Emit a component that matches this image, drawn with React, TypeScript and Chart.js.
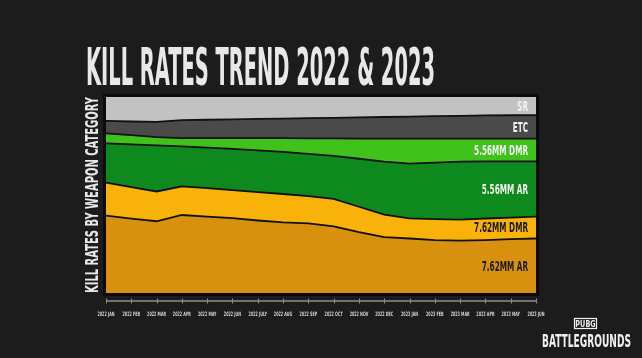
import { useEffect, useRef } from 'react';
import { Chart, registerables } from 'chart.js';

Chart.register(...registerables);

const months = [
  '2022 JAN', '2022 FEB', '2022 MAR', '2022 APR', '2022 MAY', '2022 JUN',
  '2022 JULY', '2022 AUG', '2022 SEP', '2022 OCT', '2022 NOV', '2022 DEC',
  '2023 JAN', '2023 FEB', '2023 MAR', '2023 APR', '2023 MAY', '2023 JUN',
];

// share of kills (%) per weapon category, bottom to top of the stack
const ar762 = [39.5, 38, 36.6, 39.8, 39, 38.2, 37, 36, 35.5, 34, 31, 28.5, 27.8, 27, 26.7, 27, 27.5, 27.8];
const dmr762 = [16.8, 16, 15.2, 14.6, 14.5, 14.3, 14.5, 14.5, 13.9, 14, 13, 11.5, 10.3, 10.7, 10.7, 11, 11, 11.2];
const ar556 = [20, 21.8, 23.5, 20.4, 20.7, 21, 21.3, 21.5, 21.6, 22, 24.5, 27, 27.9, 28.8, 29.6, 29.2, 28.7, 28.2];
const dmr556 = [5.1, 4.7, 4.2, 4.2, 4.8, 5.5, 6.2, 7, 7.9, 8.9, 10.3, 11.8, 12.8, 12.3, 11.8, 11.6, 11.6, 11.6];
const etc = [6.4, 7, 7.8, 9.2, 9.4, 9.6, 9.8, 10, 10.3, 10.5, 10.8, 11, 11.2, 11.4, 11.6, 11.8, 11.9, 12];
const sr = [12.2, 12.5, 12.7, 11.8, 11.6, 11.4, 11.2, 11, 10.8, 10.6, 10.4, 10.2, 10, 9.8, 9.6, 9.4, 9.3, 9.2];

const seriesNames = ['7.62MM AR', '7.62MM DMR', '5.56MM AR', '5.56MM DMR', 'ETC', 'SR'];
const seriesValues = [ar762, dmr762, ar556, dmr556, etc, sr];

const chartTitle = 'KILL RATES TREND 2022 & 2023';
const yTitle = 'KILL RATES BY WEAPON CATEGORY';
const logoTop = 'PUBG';
const logoBottom = 'BATTLEGROUNDS';

const fillColors = ['#d8910f', '#f8b209', '#0d891d', '#41c11b', '#4a4a4a', '#c2c2c2'];
const labelColors = ['#1a1a1a', '#1a1a1a', '#f2f2f2', '#f2f2f2', '#f2f2f2', '#f2f2f2'];

const FONT = '"DejaVu Sans Condensed", "DejaVu Sans", sans-serif';

function drawScaled(ctx: CanvasRenderingContext2D, text: string, x: number, y: number, size: number, sx: number, align: string) {
  ctx.save();
  ctx.font = `bold ${size}px ${FONT}`;
  const w = ctx.measureText(text).width * sx;
  let left = x;
  if (align === 'right') left = x - w;
  else if (align === 'center') left = x - w / 2;
  ctx.translate(left, y);
  ctx.scale(sx, 1);
  ctx.textAlign = 'left';
  ctx.textBaseline = 'alphabetic';
  ctx.fillText(text, 0, 0);
  ctx.restore();
}

function drawFit(ctx: CanvasRenderingContext2D, text: string, x: number, y: number, size: number, width: number) {
  ctx.save();
  ctx.font = `bold ${size}px ${FONT}`;
  const w = ctx.measureText(text).width;
  ctx.translate(x, y);
  ctx.scale(width / w, 1);
  ctx.textAlign = 'left';
  ctx.textBaseline = 'alphabetic';
  ctx.fillText(text, 0, 0);
  ctx.restore();
}

const decorPlugin = {
  id: 'decor',
  beforeDraw(chart: any) {
    const { ctx, chartArea: ca, width, height } = chart;
    ctx.save();
    ctx.fillStyle = '#1c1c1c';
    ctx.fillRect(0, 0, width, height);
    ctx.fillStyle = '#0b0b0b';
    ctx.fillRect(ca.left - 3, ca.top - 3, ca.right - ca.left + 6, ca.bottom - ca.top + 6);
    ctx.restore();
  },
  afterDraw(chart: any) {
    const { ctx, chartArea: ca } = chart;
    const xs = chart.scales.x;
    const ys = chart.scales.y;
    ctx.save();
    // axis line with ticks and condensed tick labels
    const y0 = ca.bottom + 8;
    ctx.strokeStyle = '#8c8c8c';
    ctx.lineWidth = 1.5;
    ctx.beginPath();
    ctx.moveTo(ca.left, y0);
    ctx.lineTo(ca.right, y0);
    ctx.stroke();
    ctx.lineWidth = 1;
    xs.ticks.forEach((_t: any, i: number) => {
      const px = xs.getPixelForTick(i);
      const rx = Math.round(px) + 0.5;
      ctx.strokeStyle = '#8c8c8c';
      ctx.beginPath();
      ctx.moveTo(rx, y0 - 2.5);
      ctx.lineTo(rx, y0 + 2.5);
      ctx.stroke();
      ctx.fillStyle = '#d4d4d4';
      drawScaled(ctx, String(xs.getLabelForValue(i)), px, y0 + 14.5, 6, 0.62, 'center');
    });

    // title
    ctx.fillStyle = '#e8e8e8';
    drawFit(ctx, chartTitle, 86, 85, 51, 349);

    // y title
    ctx.save();
    ctx.translate(98, 293);
    ctx.rotate(-Math.PI / 2);
    ctx.fillStyle = '#e8e8e8';
    drawFit(ctx, yTitle, 0, 0, 17, 196);
    ctx.restore();

    // series labels at the right end
    const last = chart.data.labels.length - 1;
    let cum = 0;
    chart.data.datasets.forEach((ds: any, i: number) => {
      const v = ds.data[last];
      const mid = cum + v / 2;
      cum += v;
      const py = ys.getPixelForValue(mid);
      ctx.fillStyle = labelColors[i];
      drawScaled(ctx, ds.label, ca.right - 8, py + 4.8, 13.5, 0.6, 'right');
    });

    // logo
    ctx.fillStyle = '#f0f0f0';
    ctx.strokeStyle = '#f0f0f0';
    ctx.lineWidth = 1.2;
    ctx.strokeRect(574.5, 318.5, 22, 10);
    drawScaled(ctx, logoTop, 585.5, 327, 9, 0.8, 'center');
    drawFit(ctx, logoBottom, 542, 347, 18, 89);
    ctx.restore();
  },
};

export default function App() {
  const ref = useRef<HTMLCanvasElement | null>(null);
  useEffect(() => {
    if (!ref.current) return;
    const chart = new Chart(ref.current, {
      type: 'line',
      data: {
        labels: months,
        datasets: seriesValues.map((vals, i) => ({
          label: seriesNames[i],
          data: vals,
          backgroundColor: fillColors[i],
          borderColor: i === seriesValues.length - 1 ? 'rgba(0,0,0,0)' : '#111111',
          borderWidth: i === seriesValues.length - 1 ? 0 : 1.8,
          pointRadius: 0,
          tension: 0,
          fill: i === 0 ? 'origin' : '-1',
        })),
      },
      options: {
        responsive: false,
        animation: false,
        devicePixelRatio: 1,
        layout: { padding: { left: 106, right: 106, top: 97, bottom: 41 } },
        plugins: {
          legend: { display: false },
          title: { display: false },
          tooltip: { enabled: false },
        },
        scales: {
          x: {
            offset: false,
            grid: { display: false, drawTicks: false },
            border: { display: false },
            ticks: { display: false, autoSkip: false, maxRotation: 0, minRotation: 0 },
            afterFit: (s: any) => { s.height = 24; },
          },
          y: {
            display: false,
            stacked: true,
            min: 0,
            max: 100,
          },
        },
      },
      plugins: [decorPlugin],
    });
    return () => chart.destroy();
  }, []);
  return (
    <div style={{ position: 'fixed', left: 0, top: 0, width: 642, height: 358, background: '#1c1c1c' }}>
      <canvas ref={ref} width={642} height={358} style={{ width: 642, height: 358, display: 'block' }} />
    </div>
  );
}
